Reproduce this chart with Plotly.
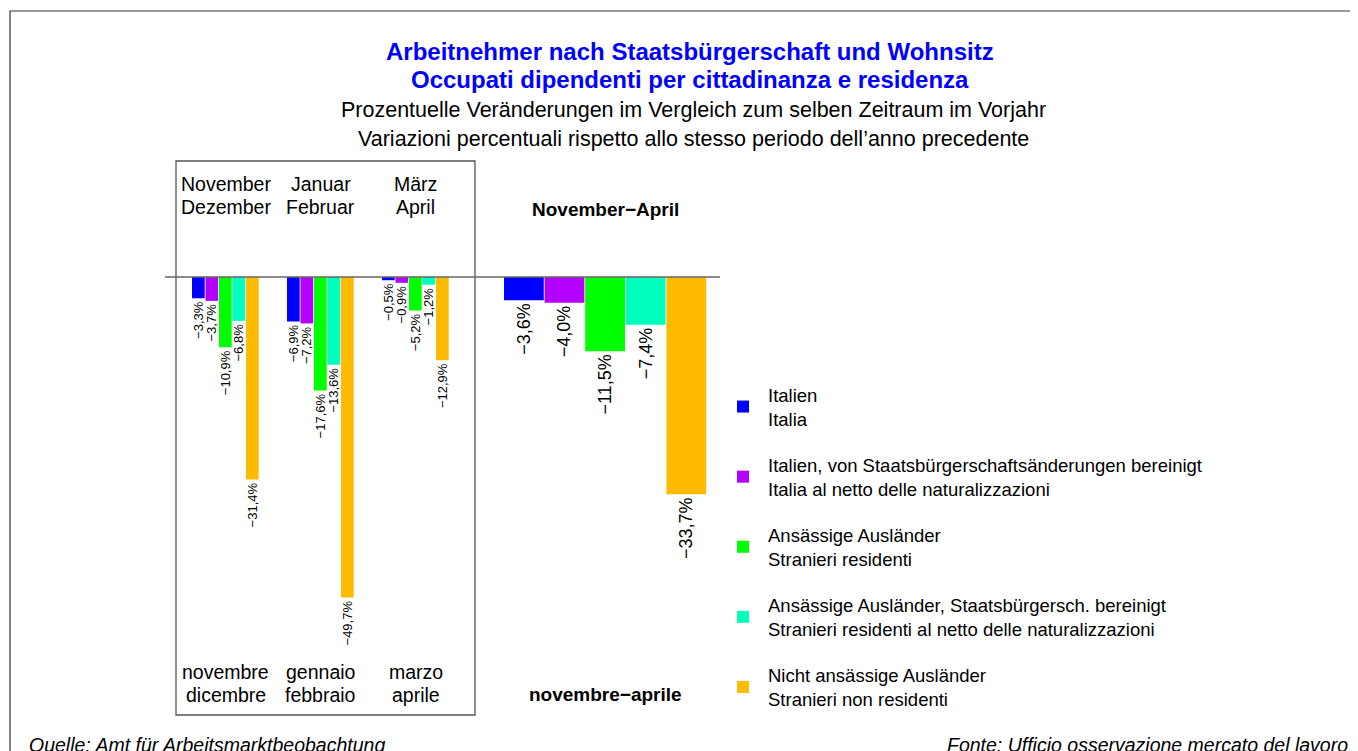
import plotly.graph_objects as go

W, H = 1358, 751
OFF = 8  # page body margin

# data
periods_de = [("November", "Dezember"), ("Januar", "Februar"), ("März", "April")]
periods_it = [("novembre", "dicembre"), ("gennaio", "febbraio"), ("marzo", "aprile")]
period_keys = ["nov-dic", "gen-feb", "mar-apr"]
total_key = ["nov-apr"]

series_names = [
    "Italien<br>Italia",
    "Italien, von Staatsbürgerschaftsänderungen bereinigt<br>Italia al netto delle naturalizzazioni",
    "Ansässige Ausländer<br>Stranieri residenti",
    "Ansässige Ausländer, Staatsbürgersch. bereinigt<br>Stranieri residenti al netto delle naturalizzazioni",
    "Nicht ansässige Ausländer<br>Stranieri non residenti",
]
colors = ["#0000FF", "#B300FF", "#00FF00", "#00FFBF", "#FFBB00"]

italien = [-3.3, -6.9, -0.5]
italien_ber = [-3.7, -7.2, -0.9]
auslaender = [-10.9, -17.6, -5.2]
auslaender_ber = [-6.8, -13.6, -1.2]
nicht_ansaessig = [-31.4, -49.7, -12.9]
period_values = [italien, italien_ber, auslaender, auslaender_ber, nicht_ansaessig]

total_values = [-3.6, -4.0, -11.5, -7.4, -33.7]


def px_x(p):
    return (p - OFF) / W


def px_y(p):
    return 1 - (p - OFF) / H


def fmt(v):
    return ("−" if v < 0 else "") + f"{abs(v):.1f}".replace(".", ",") + "%"


FONT = "Liberation Sans, Arial, sans-serif"

fig = go.Figure()

# left panel: two-month periods
step_l = 13.5 / 95
for i, (name, vals, col) in enumerate(zip(series_names, period_values, colors)):
    fig.add_trace(go.Bar(
        x=period_keys, y=vals, name=name, xaxis="x", yaxis="y",
        marker=dict(color=col, line=dict(width=0)),
        width=step_l - 0.8 / 95, offset=-33.5 / 95 + i * step_l,
        text=[fmt(v) for v in vals], textposition="outside", textangle=-90,
        constraintext="none", cliponaxis=False,
        outsidetextfont=dict(size=13, color="black", family=FONT),
        legendgroup=str(i), showlegend=True,
    ))

# right panel: whole period
for i, (name, v, col) in enumerate(zip(series_names, total_values, colors)):
    fig.add_trace(go.Bar(
        x=total_key, y=[v], name=name, xaxis="x2", yaxis="y",
        marker=dict(color=col, line=dict(width=0)),
        width=0.196, offset=-0.5 + i * 0.2,
        text=[fmt(v)], textposition="outside", textangle=-90,
        constraintext="none", cliponaxis=False,
        outsidetextfont=dict(size=18, color="black", family=FONT),
        legendgroup=str(i), showlegend=False,
    ))

box_top, box_bot = 161, 715
zero_px = 277
scale = 6.45
y_range = [-(box_bot - zero_px) / scale, (zero_px - box_top) / scale]


def label(text, x, y, size, xref="paper", color="black", xanchor="center"):
    return dict(x=x, xref=xref, y=px_y(y), yref="paper", text=text, showarrow=False,
                xanchor=xanchor, yanchor="middle", font=dict(size=size, family=FONT, color=color))


annotations = []
for key, (de1, de2), (it1, it2) in zip(period_keys, periods_de, periods_it):
    annotations += [
        label(de1, key, 184, 19.5, xref="x"),
        label(de2, key, 207, 19.5, xref="x"),
        label(it1, key, 672, 19.5, xref="x"),
        label(it2, key, 695, 19.5, xref="x"),
    ]
annotations += [
    label("<b>November−April</b>", total_key[0], 209, 19, xref="x2"),
    label("<b>novembre−aprile</b>", total_key[0], 694, 19, xref="x2"),
    label("<b>Arbeitnehmer nach Staatsbürgerschaft und Wohnsitz</b>", px_x(690), 52, 24, color="#0000FF"),
    label("<b>Occupati dipendenti per cittadinanza e residenza</b>", px_x(690), 79, 24, color="#0000FF"),
    label("Prozentuelle Veränderungen im Vergleich zum selben Zeitraum im Vorjahr", px_x(693), 110, 21.5),
    label("Variazioni percentuali rispetto allo stesso periodo dell’anno precedente", px_x(693), 139, 21.5),
    label("<i>Quelle: Amt für Arbeitsmarktbeobachtung</i>", px_x(27), 745, 19.5, xanchor="left"),
    label("<i>Fonte: Ufficio osservazione mercato del lavoro</i>", px_x(1350), 745, 19.5, xanchor="right"),
]

shapes = [
    dict(type="rect", xref="paper", yref="paper", x0=px_x(10), x1=px_x(1420), y0=px_y(820), y1=px_y(11),
         line=dict(color="#333333", width=1.2)),
    dict(type="rect", xref="paper", yref="paper", x0=px_x(176), x1=px_x(475), y0=px_y(box_bot), y1=px_y(box_top),
         line=dict(color="#555555", width=1.3)),
    dict(type="line", xref="paper", yref="y", x0=px_x(165), x1=px_x(720), y0=0, y1=0,
         line=dict(color="#666666", width=1.5)),
]

fig.update_layout(
    width=W, height=H,
    margin=dict(l=0, r=0, t=0, b=0),
    paper_bgcolor="white", plot_bgcolor="rgba(0,0,0,0)",
    barmode="overlay",
    font=dict(family=FONT, color="black"),
    xaxis=dict(domain=[px_x(176), px_x(475)], type="category", categoryarray=period_keys,
               range=[(176 - 225.5) / 95, (475 - 225.5) / 95], visible=False, anchor="y"),
    xaxis2=dict(domain=[px_x(475), px_x(720)], type="category", categoryarray=total_key,
                range=[-(605.5 - 475) / 203, (720 - 605.5) / 203], visible=False, anchor="y"),
    yaxis=dict(domain=[px_y(box_bot), px_y(box_top)], range=y_range, visible=False),
    showlegend=True,
    legend=dict(x=px_x(718), y=px_y(376), xanchor="left", yanchor="top",
                font=dict(size=18.5, family=FONT, color="black"), itemwidth=40,
                tracegroupgap=19, bgcolor="rgba(0,0,0,0)", itemclick=False, itemdoubleclick=False),
    annotations=annotations,
    shapes=shapes,
)

fig.write_html("out.html")
